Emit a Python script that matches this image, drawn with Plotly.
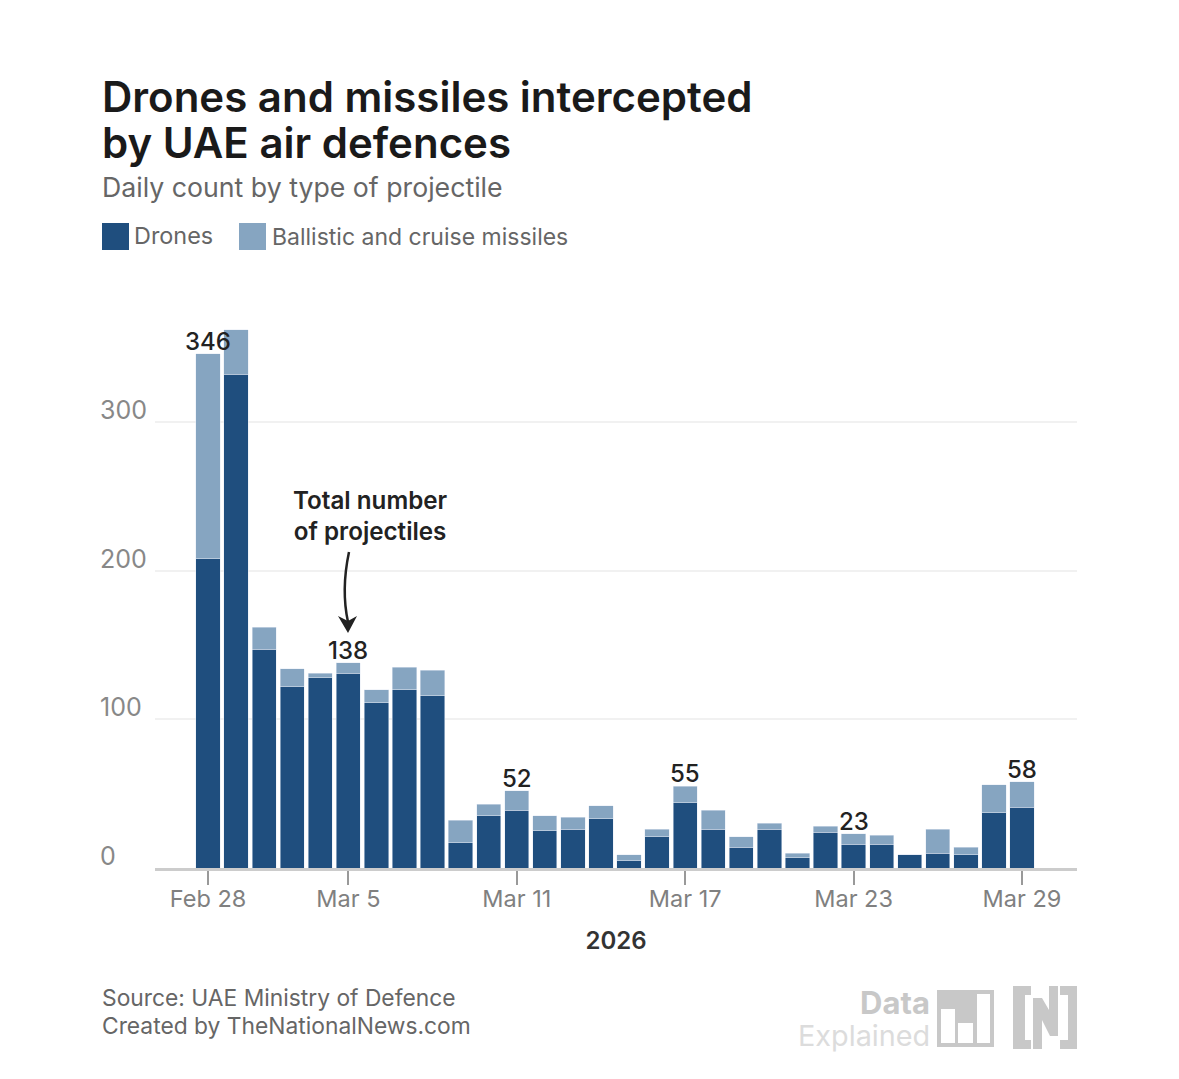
import plotly.graph_objects as go

DATES = [
    "2026-02-28", "2026-03-01", "2026-03-02", "2026-03-03", "2026-03-04", "2026-03-05",
    "2026-03-06", "2026-03-07", "2026-03-08", "2026-03-09", "2026-03-10", "2026-03-11",
    "2026-03-12", "2026-03-13", "2026-03-14", "2026-03-15", "2026-03-16", "2026-03-17",
    "2026-03-18", "2026-03-19", "2026-03-20", "2026-03-21", "2026-03-22", "2026-03-23",
    "2026-03-24", "2026-03-25", "2026-03-26", "2026-03-27", "2026-03-28", "2026-03-29",
]
DRONES = [
    208, 332, 147, 122, 128, 131, 111, 120, 116, 17, 35, 39, 25, 26, 33,
    5, 21, 44, 26, 14, 26, 7, 24, 16, 16, 9, 10, 9, 37, 41,
]
MISSILES = [
    138, 30, 15, 12, 3, 7, 9, 15, 17, 15, 8, 13, 10, 8, 9,
    4, 5, 11, 13, 7, 4, 3, 4, 7, 6, 0, 16, 5, 19, 17,
]
TICK_DATES = ["2026-02-28", "2026-03-05", "2026-03-11", "2026-03-17", "2026-03-23", "2026-03-29"]
TICK_LABELS = ["Feb 28", "Mar 5", "Mar 11", "Mar 17", "Mar 23", "Mar 29"]
Y_TICKS = [0, 100, 200, 300]
LABELLED_DATES = ["2026-02-28", "2026-03-05", "2026-03-11", "2026-03-17", "2026-03-23", "2026-03-29"]

DRONE_COLOR = "#1f4e7e"
MISSILE_COLOR = "#86a5c1"
LOGO_COLOR = "#c8c8c8"
FONT = "Inter"

# page offset of the plot inside the browser body
OFFSET = 8
WIDTH = 1163
HEIGHT = 1063
LEFT, RIGHT, TOP, BOTTOM = 155, 1077, 303, 868


def px(x):
    return (x - LEFT) / (RIGHT - LEFT)


def py(y):
    return (BOTTOM - y) / (BOTTOM - TOP)


def note(x, y, text, size, color, weight=400, anchor="left"):
    return dict(
        x=px(x), y=py(y), xref="paper", yref="paper", text=text, showarrow=False,
        xanchor=anchor, yanchor="middle", align=anchor,
        font=dict(family=FONT, size=size, color=color, weight=weight),
    )


def box(x0, y0, x1, y1, color):
    return dict(
        type="rect", xref="paper", yref="paper", x0=px(x0), y0=py(y0), x1=px(x1), y1=py(y1),
        fillcolor=color, line_width=0, layer="above",
    )


def poly(points, color):
    path = "M " + " L ".join(f"{px(x):.5f},{py(y):.5f}" for x, y in points) + " Z"
    return dict(type="path", xref="paper", yref="paper", path=path, fillcolor=color, line_width=0)


fig = go.Figure()
fig.add_trace(go.Bar(x=DATES, y=DRONES, name="Drones", marker_color=DRONE_COLOR))
fig.add_trace(go.Bar(x=DATES, y=MISSILES, name="Ballistic and cruise missiles", marker_color=MISSILE_COLOR))

annotations = [
    note(100, 97, "Drones and missiles intercepted", 42, "#1a1a1a", 600),
    note(100, 142, "by UAE air defences", 42, "#1a1a1a", 600),
    note(100, 187, "Daily count by type of projectile", 26.7, "#666666"),
    note(132, 236, "Drones", 23.4, "#666666"),
    note(270, 237, "Ballistic and cruise missiles", 23, "#666666"),
    note(370, 516, "Total number<br>of projectiles", 24.2, "#222222", 600, "center"),
    note(100, 997, "Source: UAE Ministry of Defence", 22.8, "#666666"),
    note(100, 1025, "Created by TheNationalNews.com", 22.8, "#666666"),
    note(932, 1002, "Data", 31, "#c8c8c8", 700, "right"),
    note(932, 1035, "Explained", 28.8, "#dcdcdc", 400, "right"),
]
for tick in Y_TICKS:
    annotations.append(
        dict(
            x=px(98), y=tick, xref="paper", yref="y", text=str(tick), showarrow=False,
            xanchor="left", yanchor="bottom", yshift=-5,
            font=dict(family=FONT, size=25, color="#888888"),
        )
    )
for date in LABELLED_DATES:
    i = DATES.index(date)
    annotations.append(
        dict(
            x=date, y=DRONES[i] + MISSILES[i], text=str(DRONES[i] + MISSILES[i]), showarrow=False,
            yanchor="bottom", yshift=-4,
            font=dict(family=FONT, size=24, color="#222222", weight=500),
        )
    )

arrow = (
    f"M {px(349):.5f},{py(552):.5f} Q {px(341):.5f},{py(590):.5f} {px(348):.5f},{py(622):.5f}"
)
shapes = [
    box(102, 223, 129, 250, DRONE_COLOR),
    box(239, 223, 266, 250, MISSILE_COLOR),
    dict(type="path", xref="paper", yref="paper", path=arrow, line=dict(color="#222222", width=2.5)),
    poly([(338, 616), (348, 621), (357, 616), (348, 633)], "#222222"),
    # Data Explained icon
    box(937, 990, 994, 1047, LOGO_COLOR),
    box(941, 1009, 955, 1043, "#ffffff"),
    box(958, 1023, 973, 1043, "#ffffff"),
    box(977, 994, 990, 1043, "#ffffff"),
    # N logo
    poly(
        [(1013, 986), (1031, 986), (1031, 995), (1025, 995), (1025, 1040), (1031, 1040), (1031, 1049), (1013, 1049)],
        LOGO_COLOR,
    ),
    poly(
        [(1060, 986), (1077, 986), (1077, 1049), (1060, 1049), (1060, 1040), (1068, 1040), (1068, 995), (1060, 995)],
        LOGO_COLOR,
    ),
    poly(
        [
            (1033, 998), (1042, 998), (1049, 1010), (1049, 986), (1058, 986), (1058, 1036),
            (1050, 1036), (1042, 1020), (1042, 1049), (1033, 1049),
        ],
        LOGO_COLOR,
    ),
]

fig.update_layout(
    barmode="stack",
    bargap=0.135,
    width=WIDTH,
    height=HEIGHT,
    margin=dict(
        l=LEFT - OFFSET, r=WIDTH - (RIGHT - OFFSET), t=TOP - OFFSET, b=HEIGHT - (BOTTOM - OFFSET), autoexpand=False
    ),
    paper_bgcolor="#ffffff",
    plot_bgcolor="#ffffff",
    showlegend=False,
    font=dict(family=FONT),
    annotations=annotations,
    shapes=shapes,
)
fig.update_xaxes(
    type="date",
    range=["2026-02-26 02:41", "2026-03-30 23:02"],
    tickmode="array",
    tickvals=TICK_DATES,
    ticktext=TICK_LABELS,
    ticks="outside",
    ticklen=14,
    tickwidth=1.5,
    tickcolor="#999999",
    tickfont=dict(family=FONT, size=23.5, color="#808080"),
    ticklabelstandoff=-6,
    showgrid=False,
    showline=True,
    linecolor="#cccccc",
    linewidth=2.5,
    title=dict(text="2026", font=dict(family=FONT, size=24, color="#333333", weight=600), standoff=21),
)
fig.update_yaxes(
    range=[0, 380],
    tickvals=Y_TICKS,
    showticklabels=False,
    showgrid=True,
    gridcolor="#f1f1f1",
    gridwidth=1.5,
    zeroline=False,
)

fig.write_html("out.html")
